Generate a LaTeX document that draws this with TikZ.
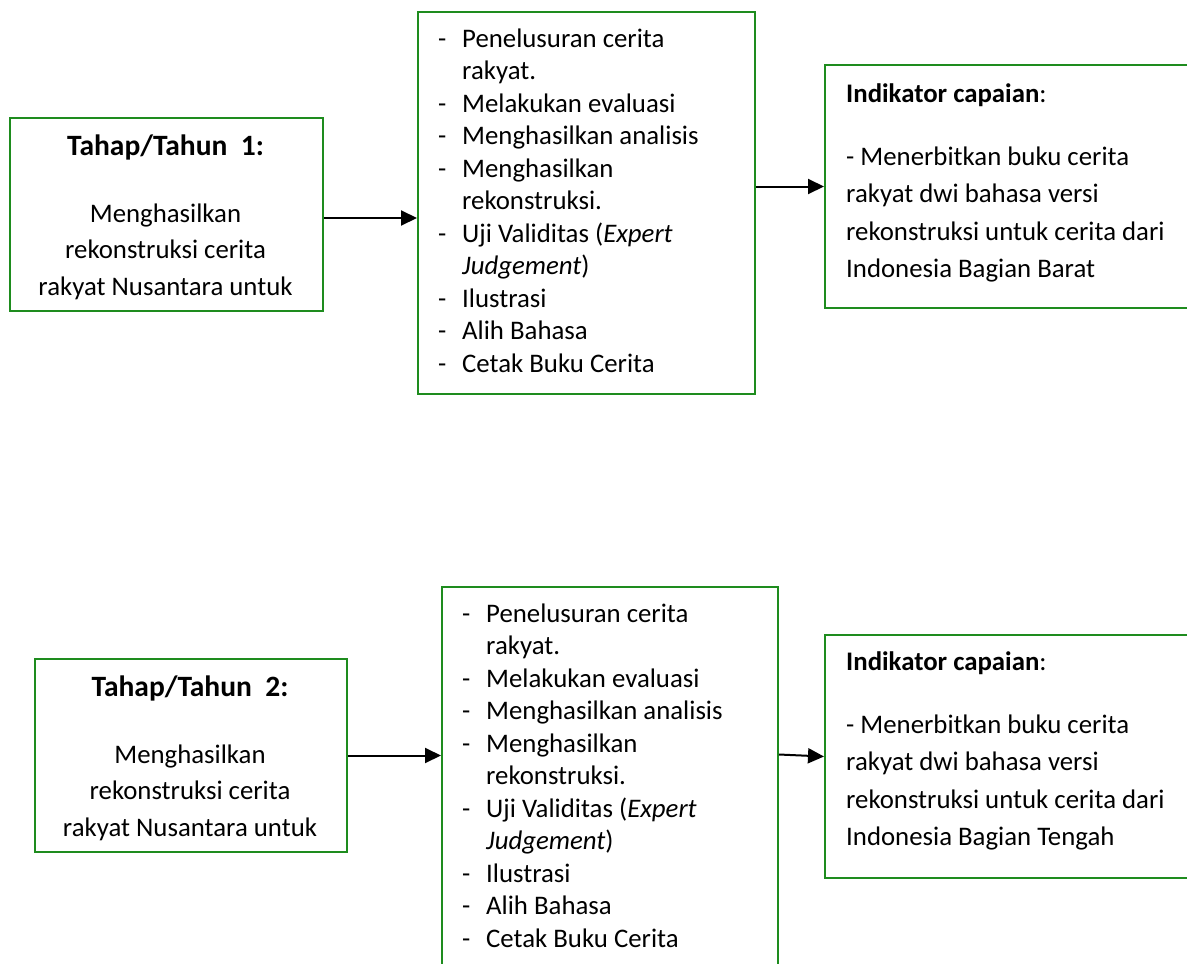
\documentclass[tikz,border=0pt]{standalone}
\usepackage{fontspec}
\setmainfont{Carlito}
\usetikzlibrary{arrows.meta,calc}
\definecolor{boxgreen}{RGB}{30,140,30}
\tikzset{
  box/.style={draw=boxgreen, line width=2pt, anchor=north west, inner sep=0pt},
  txt/.style={anchor=base west, inner sep=0pt, font=\fontsize{26.8}{32}\selectfont},
  ctxt/.style={anchor=base, inner sep=0pt, font=\fontsize{26.8}{32}\selectfont},
  ttl/.style={anchor=base, inner sep=0pt, font=\fontsize{29.5}{34}\selectfont\bfseries},
  arr/.style={line width=2pt, -{Triangle[length=16pt,width=15pt]}}
}
\begin{document}
\begin{tikzpicture}[x=1pt,y=-1pt]
\useasboundingbox (0,0) rectangle (1187,964);
\clip (0,0) rectangle (1187,964);

% ---------- row 1 ----------
\node[box, minimum width=313pt, minimum height=193pt] (a1) at (9,117) {};
\node[box, minimum width=337pt, minimum height=382pt] (b1) at (417,11) {};
\node[box, minimum width=380pt, minimum height=243pt] (c1) at (824,64) {};

\node[ttl] (a1t0) at (165.5,155) {Tahap/Tahun\ \ 1:};
\node[ctxt] (a1t1) at (165.5,222) {Menghasilkan};
\node[ctxt] (a1t2) at (165.5,258) {rekonstruksi cerita};
\node[ctxt] (a1t3) at (165.5,295) {rakyat Nusantara untuk};

\node[txt] (b1d0) at (438,47) {-};
\node[txt] (b1t0) at (462,47) {Penelusuran cerita};
\node[txt] (b1t1) at (462,79.5) {rakyat.};
\node[txt] (b1d2) at (438,112) {-};
\node[txt] (b1t2) at (462,112) {Melakukan evaluasi};
\node[txt] (b1d3) at (438,144.5) {-};
\node[txt] (b1t3) at (462,144.5) {Menghasilkan analisis};
\node[txt] (b1d4) at (438,177) {-};
\node[txt] (b1t4) at (462,177) {Menghasilkan};
\node[txt] (b1t5) at (462,209.5) {rekonstruksi.};
\node[txt] (b1d6) at (438,242) {-};
\node[txt] (b1t6) at (462,242) {Uji Validitas (\textit{Expert}};
\node[txt] (b1t7) at (462,274.5) {\textit{Judgement})};
\node[txt] (b1d8) at (438,307) {-};
\node[txt] (b1t8) at (462,307) {Ilustrasi};
\node[txt] (b1d9) at (438,339.5) {-};
\node[txt] (b1t9) at (462,339.5) {Alih Bahasa};
\node[txt] (b1d10) at (438,372) {-};
\node[txt] (b1t10) at (462,372) {Cetak Buku Cerita};

\node[txt] (c1t0) at (846,102) {\textbf{Indikator capaian}:};
\node[txt] (c1t1) at (846,165) {- Menerbitkan buku cerita};
\node[txt] (c1t2) at (846,202) {rakyat dwi bahasa versi};
\node[txt] (c1t3) at (846,240) {rekonstruksi untuk cerita dari};
\node[txt] (c1t4) at (846,277) {Indonesia Bagian Barat};

\coordinate (s1) at ($(a1.east)+(0,3.5)$);
\draw[arr] (s1) -- (s1 -| b1.west);
\draw[arr] (b1.east |- c1.west) -- (c1.west);

% ---------- row 2 ----------
\node[box, minimum width=312pt, minimum height=193pt] (a2) at (34,658) {};
\node[box, minimum width=336pt, minimum height=400pt] (b2) at (441,586) {};
\node[box, minimum width=380pt, minimum height=243pt] (c2) at (824,634) {};

\node[ttl] (a2t0) at (190,696) {Tahap/Tahun\ \ 2:};
\node[ctxt] (a2t1) at (190,763) {Menghasilkan};
\node[ctxt] (a2t2) at (190,799) {rekonstruksi cerita};
\node[ctxt] (a2t3) at (190,836) {rakyat Nusantara untuk};

\node[txt] (b2d0) at (462,622) {-};
\node[txt] (b2t0) at (486,622) {Penelusuran cerita};
\node[txt] (b2t1) at (486,654.5) {rakyat.};
\node[txt] (b2d2) at (462,687) {-};
\node[txt] (b2t2) at (486,687) {Melakukan evaluasi};
\node[txt] (b2d3) at (462,719.5) {-};
\node[txt] (b2t3) at (486,719.5) {Menghasilkan analisis};
\node[txt] (b2d4) at (462,752) {-};
\node[txt] (b2t4) at (486,752) {Menghasilkan};
\node[txt] (b2t5) at (486,784.5) {rekonstruksi.};
\node[txt] (b2d6) at (462,817) {-};
\node[txt] (b2t6) at (486,817) {Uji Validitas (\textit{Expert}};
\node[txt] (b2t7) at (486,849.5) {\textit{Judgement})};
\node[txt] (b2d8) at (462,882) {-};
\node[txt] (b2t8) at (486,882) {Ilustrasi};
\node[txt] (b2d9) at (462,914.5) {-};
\node[txt] (b2t9) at (486,914.5) {Alih Bahasa};
\node[txt] (b2d10) at (462,947) {-};
\node[txt] (b2t10) at (486,947) {Cetak Buku Cerita};

\node[txt] (c2t0) at (846,670) {\textbf{Indikator capaian}:};
\node[txt] (c2t1) at (846,733) {- Menerbitkan buku cerita};
\node[txt] (c2t2) at (846,770) {rakyat dwi bahasa versi};
\node[txt] (c2t3) at (846,808) {rekonstruksi untuk cerita dari};
\node[txt] (c2t4) at (846,845) {Indonesia Bagian Tengah};

\draw[arr] (a2.east) -- (a2.east -| b2.west);
\coordinate (s2) at ($(b2.east |- c2.west)+(0,-2)$);
\draw[arr] (s2) -- (c2.west);
\end{tikzpicture}
\end{document}
